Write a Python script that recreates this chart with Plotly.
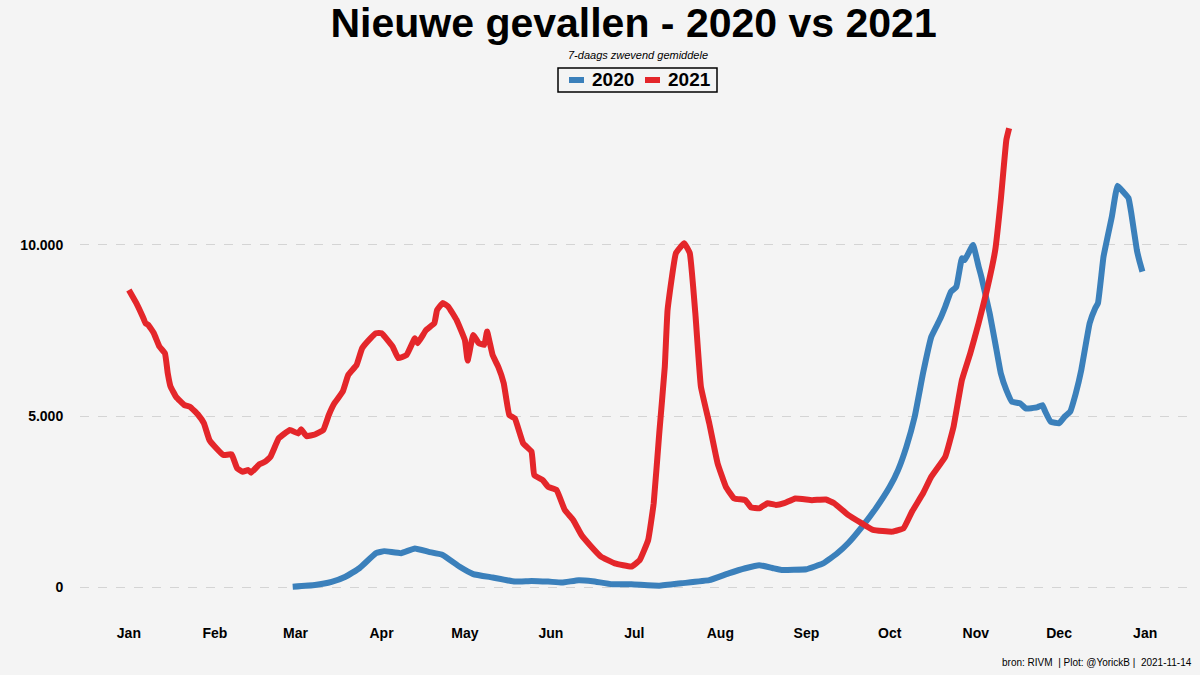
import plotly.graph_objects as go
import pandas as pd

# Day-of-year offsets (0 = 1 Jan) on a common (2020) calendar axis
days_2020 = [59, 67, 73, 78, 83, 89, 92, 98, 103, 108, 113, 119, 124, 131, 139, 145, 151, 156, 162, 167,
             174, 181, 191, 199, 209, 216, 222, 227, 232, 235, 244, 250, 255, 259, 264, 269, 274, 277, 280,
             283, 286, 289, 292, 294, 296, 298, 300, 301, 304, 306, 307, 310, 312, 314, 316, 318, 321, 323,
             327, 329, 330, 332, 335, 337, 339, 341, 343, 346, 348, 349, 351, 354, 356, 358, 360, 361, 363,
             364, 365]
cases_2020 = [10, 60, 150, 300, 550, 990, 1050, 990, 1130, 1030, 940, 600, 380, 280, 160, 180, 160, 130, 200, 170,
              80, 80, 40, 110, 200, 400, 550, 640, 550, 500, 520, 690, 980, 1280, 1760, 2300, 2930, 3420, 4100,
              4980, 6250, 7320, 7810, 8200, 8630, 8780, 9610, 9560, 10000, 9370, 9070, 8000, 7130, 6250, 5760, 5420, 5370, 5220,
              5250, 5320, 5130, 4830, 4790, 4980, 5130, 5660, 6350, 7710, 8150, 8300, 9660, 10830, 11730, 11560, 11370, 10930, 9850,
              9510, 9220]

days_2021 = [0, 3, 5, 6, 7, 9, 11, 13, 14, 15, 17, 20, 22, 25, 27, 29, 31, 34, 37, 39, 41, 43, 44, 47, 49, 51,
             54, 58, 61, 62, 64, 67, 70, 72, 74, 77, 79, 82, 84, 87, 89, 91, 95, 97, 100, 103, 104, 107, 110,
             111, 113, 115, 118, 121, 122, 124, 126, 128, 129, 131, 133, 135, 137, 139, 142, 145, 146, 149, 151,
             154, 157, 160, 163, 166, 170, 175, 181, 184, 187, 189, 191, 193, 194, 197, 200, 202, 204, 206, 209,
             212, 215, 218, 222, 224, 227, 230, 233, 236, 240, 246, 251, 254, 259, 264, 268, 275, 279, 282, 286,
             289, 294, 297, 300, 303, 306, 309, 312, 314, 316, 317]
cases_2021 = [8680, 8250, 7900, 7710, 7660, 7420, 7030, 6830, 6250, 5860, 5560, 5320, 5270, 5030, 4790, 4300, 4100, 3860, 3880, 3470, 3370, 3420, 3340, 3590, 3660, 3810,
              4350, 4590, 4490, 4610, 4410, 4460, 4590, 5030, 5370, 5710, 6200, 6490, 6980, 7270, 7420, 7420, 7030, 6690, 6780, 7270, 7130, 7510, 7710,
              8100, 8300, 8200, 7810, 7220, 6620, 7370, 7130, 7080, 7470, 6780, 6440, 5960, 5030, 4930, 4200, 3960, 3270, 3130, 2930,
              2840, 2250, 1960, 1520, 1230, 890, 690, 600, 790, 1370, 2450, 4490, 6440, 8100, 9760, 10050, 9760, 8000, 5860, 4790,
              3620, 2930, 2590, 2540, 2330, 2300, 2450, 2400, 2450, 2590, 2540, 2560, 2450, 2110, 1860, 1670, 1620, 1720, 2200, 2740,
              3230, 3810, 4690, 6050, 6830, 7710, 8680, 9850, 11320, 13070, 13410]

series_names = ["2020", "2021"]
month_ticks = ["2020-01-01", "2020-02-01", "2020-03-01", "2020-04-01", "2020-05-01", "2020-06-01", "2020-07-01",
               "2020-08-01", "2020-09-01", "2020-10-01", "2020-11-01", "2020-12-01", "2021-01-01"]
month_labels = ["Jan", "Feb", "Mar", "Apr", "May", "Jun", "Jul", "Aug", "Sep", "Oct", "Nov", "Dec", "Jan"]
y_ticks = [0, 5000, 10000]
y_labels = ["0", "5.000", "10.000"]

base = pd.Timestamp("2020-01-01")
x2020 = [base + pd.Timedelta(days=d) for d in days_2020]
x2021 = [base + pd.Timedelta(days=d) for d in days_2021]

BLUE = "#3b80bb"
RED = "#e4262a"
BG = "#f4f4f4"
FONT = "Liberation Sans, Arial, sans-serif"

W, H = 1200, 675
ML, MR, MT, MB = 80, 4, 105, 65
PW, PH = W - ML - MR, H - MT - MB


def px(xp):
    return (xp - ML) / PW


def py(yp):
    return (H - MB - yp) / PH


fig = go.Figure()
fig.add_trace(go.Scatter(x=x2020, y=cases_2020, mode="lines", name=series_names[0],
                         line=dict(color=BLUE, width=6, shape="spline", smoothing=0.3)))
fig.add_trace(go.Scatter(x=x2021, y=cases_2021, mode="lines", name=series_names[1],
                         line=dict(color=RED, width=6, shape="spline", smoothing=0.3)))

xr0 = base + pd.Timedelta(days=-17.6)
xr1 = base + pd.Timedelta(days=384.3)

# custom legend (box, swatches, labels)
shapes = [
    dict(type="rect", xref="paper", yref="paper", x0=px(558), x1=px(717), y0=py(92), y1=py(68),
         line=dict(color="black", width=1.5), fillcolor="rgba(0,0,0,0)", layer="above"),
    dict(type="line", xref="paper", yref="paper", x0=px(569), x1=px(584), y0=py(80), y1=py(80),
         line=dict(color=BLUE, width=6)),
    dict(type="line", xref="paper", yref="paper", x0=px(645), x1=px(660), y0=py(80), y1=py(80),
         line=dict(color=RED, width=6)),
]

annotations = [
    dict(text="<i>7-daags zwevend gemiddele</i>", xref="paper", yref="paper",
         x=px(638), y=py(55), xanchor="center", yanchor="middle",
         showarrow=False, font=dict(size=11, family=FONT, color="black")),
    dict(text="bron: RIVM  | Plot: @YorickB |  2021-11-14", xref="paper", yref="paper",
         x=px(1194), y=py(662), xanchor="right", yanchor="middle",
         showarrow=False, font=dict(size=10, family=FONT, color="black")),
    dict(text="<b>" + series_names[0] + "</b>", xref="paper", yref="paper",
         x=px(590), y=py(80), xanchor="left", yanchor="middle",
         showarrow=False, font=dict(size=19, family=FONT, color="black")),
    dict(text="<b>" + series_names[1] + "</b>", xref="paper", yref="paper",
         x=px(666), y=py(80), xanchor="left", yanchor="middle",
         showarrow=False, font=dict(size=19, family=FONT, color="black")),
]

fig.update_layout(
    width=W, height=H,
    paper_bgcolor=BG, plot_bgcolor=BG,
    margin=dict(l=ML, r=MR, t=MT, b=MB),
    font=dict(family=FONT, color="black"),
    title=dict(text="Nieuwe gevallen - 2020 vs 2021", x=0.528, xanchor="center",
               y=1 - 23 / 675, yanchor="middle",
               font=dict(size=41, family=FONT, color="black", weight="bold")),
    showlegend=False,
    xaxis=dict(type="date", range=[xr0, xr1], tickvals=month_ticks, ticktext=month_labels,
               showgrid=False, zeroline=False, showline=False,
               ticks="outside", ticklen=10, tickcolor="rgba(0,0,0,0)",
               tickfont=dict(size=14, family=FONT, color="black", weight="bold")),
    yaxis=dict(range=[-671, 14091], tickvals=y_ticks, ticktext=y_labels,
               showgrid=True, gridcolor="#d4d4d4", griddash="dash", gridwidth=1,
               zeroline=False, showline=False,
               ticks="outside", ticklen=13, tickcolor="rgba(0,0,0,0)",
               tickfont=dict(size=14, family=FONT, color="black", weight="bold")),
    shapes=shapes,
    annotations=annotations,
)

fig.write_html("out.html", config={"displayModeBar": False},
               post_script="document.body.style.margin='0';document.body.style.background='" + BG + "';")
